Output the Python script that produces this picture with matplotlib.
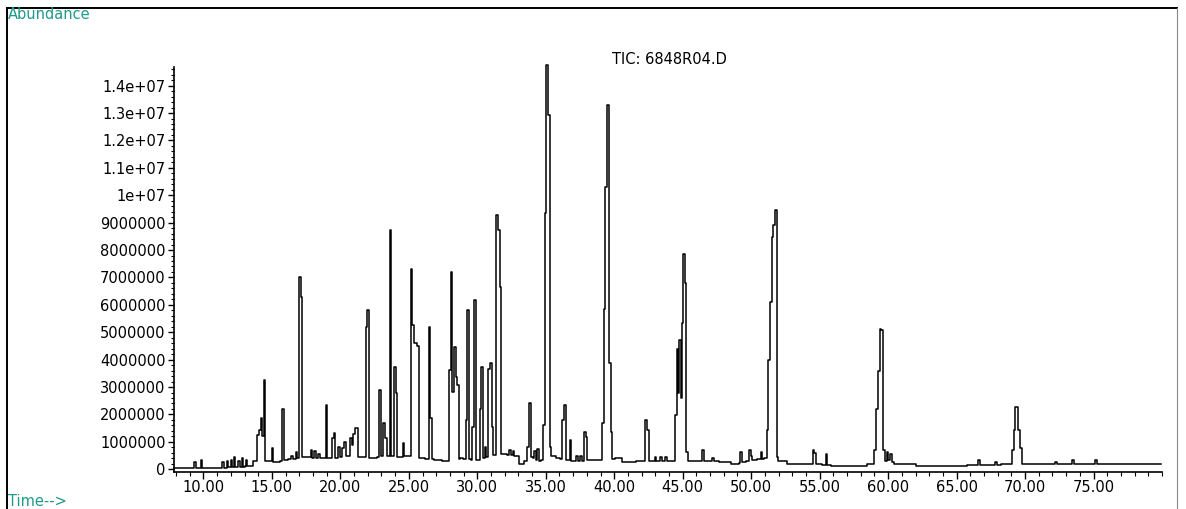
import matplotlib.pyplot as plt
from matplotlib.lines import Line2D
import numpy as np

# TIC baseline (retention time in min, abundance in millions)
base_rt = [7.85, 9.0, 10.5, 11.3, 12.0, 13.0, 13.5, 13.8, 14.6, 15.5, 16.0, 16.8,
           17.6, 18.5, 19.0, 19.8, 20.5, 21.5, 22.5, 23.0, 24.3, 25.0, 26.0, 27.0,
           27.8, 28.8, 30.0, 31.2, 32.0, 32.8, 33.3, 34.0, 34.5, 35.5, 36.0, 37.0,
           38.5, 40.2, 41.0, 43.0, 44.2, 45.6, 47.0, 48.0, 49.0, 50.2, 51.0, 52.2,
           53.0, 54.0, 55.0, 56.0, 58.0, 59.3, 60.0, 60.6, 61.0, 63.0, 65.0, 67.0,
           68.5, 70.0, 72.0, 75.0, 79.96]
base_ab = [0.03, 0.03, 0.05, 0.05, 0.08, 0.10, 0.12, 0.30, 0.30, 0.27, 0.33, 0.40,
           0.45, 0.40, 0.40, 0.40, 0.50, 0.45, 0.40, 0.50, 0.45, 0.50, 0.40, 0.35,
           0.30, 0.40, 0.33, 0.50, 0.55, 0.50, 0.20, 0.45, 0.30, 0.50, 0.40, 0.30,
           0.33, 0.40, 0.27, 0.30, 0.30, 0.30, 0.30, 0.27, 0.20, 0.35, 0.40, 0.30,
           0.20, 0.18, 0.20, 0.12, 0.12, 0.20, 0.35, 0.20, 0.18, 0.12, 0.12, 0.15,
           0.18, 0.20, 0.18, 0.18, 0.18]

# peak scans (min, millions)
peak_rt = [9.38, 9.87, 11.45, 11.75, 12.05, 12.28, 12.6, 12.85, 13.15,
           14.00, 14.12, 14.24, 14.36, 14.46, 15.05, 15.83, 16.45, 16.80,
           17.04, 17.16, 17.90, 18.15, 18.45, 18.99, 19.45, 19.57, 19.90,
           20.20, 20.33, 20.75, 20.88, 21.00, 21.12, 21.24, 21.90, 22.02,
           22.90, 23.20, 23.33, 23.66, 23.98, 24.10, 24.60,
           25.20, 25.32, 25.44, 25.56, 25.68, 26.50, 26.62,
           28.00, 28.12, 28.24, 28.36, 28.48, 28.60, 29.20, 29.33, 29.70, 29.82,
           30.23, 30.36, 30.58, 30.86, 30.99, 31.12, 31.45, 31.57, 31.70,
           32.40, 32.65, 33.70, 33.83, 34.20, 34.45,
           34.85, 34.98, 35.10, 35.22, 35.34, 36.25, 36.38, 36.80, 37.30, 37.55,
           37.85, 37.97, 39.15, 39.28, 39.41, 39.54, 39.67, 39.79,
           42.34, 42.46, 43.00, 43.40, 43.80,
           44.5, 44.6, 44.7, 44.8, 44.9, 45.0, 45.1, 45.2, 45.3,
           46.48, 47.20, 49.27, 49.90, 50.02, 50.74,
           51.20, 51.32, 51.44, 51.56, 51.68, 51.80, 51.92,
           54.55, 54.68, 55.50,
           59.05, 59.18, 59.31, 59.44, 59.57, 59.70, 59.95, 60.20,
           66.63, 67.90, 69.10, 69.22, 69.34, 69.46, 69.58, 69.70,
           72.28, 73.50, 75.20]
peak_ab = [0.27, 0.33, 0.25, 0.30, 0.35, 0.45, 0.30, 0.40, 0.35,
           1.24, 1.42, 1.86, 1.20, 3.25, 0.77, 2.19, 0.50, 0.63,
           7.02, 6.29, 0.69, 0.65, 0.55, 2.34, 1.13, 1.32, 0.80,
           0.77, 1.00, 1.13, 0.90, 1.30, 1.50, 1.50, 5.19, 5.80,
           2.88, 1.67, 1.13, 8.72, 3.73, 2.77, 0.95,
           7.32, 5.26, 4.61, 4.61, 4.50, 5.19, 1.86,
           3.61, 7.20, 2.82, 4.46, 3.37, 3.07, 1.79, 5.80, 1.54, 6.17,
           2.20, 3.73, 0.80, 3.67, 3.88, 1.54, 9.27, 8.72, 6.65,
           0.70, 0.65, 0.80, 2.40, 0.66, 0.75,
           1.60, 9.34, 14.75, 12.92, 0.80, 1.79, 2.34, 1.06, 0.50, 0.50,
           1.36, 1.18, 1.67, 5.86, 10.30, 13.28, 3.86, 1.36,
           1.79, 1.42, 0.45, 0.45, 0.45,
           1.97, 4.40, 2.80, 4.70, 2.60, 5.32, 7.87, 6.80, 0.63,
           0.69, 0.40, 0.63, 0.69, 0.50, 0.63,
           1.42, 3.98, 6.10, 8.48, 8.90, 9.45, 0.45,
           0.69, 0.58, 0.55,
           0.70, 2.20, 3.60, 5.13, 5.07, 0.70, 0.63, 0.55,
           0.33, 0.27, 0.69, 1.42, 2.28, 2.28, 1.42, 0.77,
           0.27, 0.33, 0.33]

ytick_vals = [0, 1, 2, 3, 4, 5, 6, 7, 8, 9, 10, 11, 12, 13, 14]
ytick_txt = ["0", "1000000", "2000000", "3000000", "4000000", "5000000",
             "6000000", "7000000", "8000000", "9000000", "1e+07", "1.1e+07",
             "1.2e+07", "1.3e+07", "1.4e+07"]
xtick_vals = [10, 15, 20, 25, 30, 35, 40, 45, 50, 55, 60, 65, 70, 75]
xtick_txt = ["10.00", "15.00", "20.00", "25.00", "30.00", "35.00", "40.00",
             "45.00", "50.00", "55.00", "60.00", "65.00", "70.00", "75.00"]

W, H = 1186, 509
teal = "#1f9a8c"


def build_trace(scan=0.12):
    brt = np.array(base_rt)
    bab = np.array(base_ab)
    prt = np.array(peak_rt)
    pab = np.array(peak_ab)
    # scans closer than ~1.5 scan steps belong to one peak
    groups = np.split(np.arange(len(prt)), np.where(np.diff(prt) > 0.17)[0] + 1)
    keep = np.ones(len(brt), bool)
    rt, ab = [], []
    for g in groups:
        lo = prt[g[0]] - scan
        hi = prt[g[-1]] + scan
        keep &= ~((brt >= lo) & (brt <= hi))
        rt += [lo] + list(prt[g]) + [hi]
        ab += [np.interp(lo, brt, bab)] + list(pab[g]) + [np.interp(hi, brt, bab)]
    rt += list(brt[keep])
    ab += list(bab[keep])
    order = np.argsort(rt)
    return np.array(rt)[order], np.array(ab)[order]


def fx(x):
    return x / W


def fy(y):
    return 1 - y / H


fig = plt.figure(figsize=(W / 100, H / 100), dpi=100)
ax = fig.add_axes([fx(174), fy(472), (1162 - 174) / W, (472 - 67) / H])

t, a = build_trace()
ax.plot(t, a, color="black", lw=1.1, drawstyle="steps-mid", clip_on=False)

ax.set_xlim(7.85, 79.96)
ax.set_ylim(-0.1, 14.68)
for s in ["top", "right"]:
    ax.spines[s].set_visible(False)
for s in ["left", "bottom"]:
    ax.spines[s].set_linewidth(1.2)

ax.set_yticks(ytick_vals)
ax.set_yticklabels(ytick_txt)
ax.set_yticks(np.arange(0, 14.7, 0.2), minor=True)
ax.set_xticks(xtick_vals)
ax.set_xticklabels(xtick_txt)
ax.set_xticks(np.arange(8, 80.5, 1), minor=True)
ax.tick_params(axis="y", which="major", direction="out", length=4, width=1, pad=2, labelsize=10.5)
ax.tick_params(axis="y", which="minor", direction="out", length=2, width=0.8)
ax.tick_params(axis="x", which="major", direction="out", length=5, width=1, pad=1, labelsize=10.5)
ax.tick_params(axis="x", which="minor", direction="out", length=3, width=0.8)

fig.text(fx(669), fy(52), "TIC: 6848R04.D", ha="center", va="top", fontsize=10.5)
fig.text(fx(8), fy(7), "Abundance", ha="left", va="top", fontsize=10.5, color=teal)
fig.text(fx(8), fy(494), "Time-->", ha="left", va="top", fontsize=10.5, color=teal)

# window frame around the plot
fig.add_artist(Line2D([fx(6.5), fx(6.5)], [fy(H), fy(8)], color="black", lw=1.4,
                      transform=fig.transFigure))
fig.add_artist(Line2D([fx(6.5), fx(1177)], [fy(8), fy(8)], color="black", lw=1.4,
                      transform=fig.transFigure))
fig.add_artist(Line2D([fx(1177), fx(1177)], [fy(8), fy(H)], color="#888888", lw=0.8,
                      transform=fig.transFigure))

fig.savefig("out.png", dpi=100)
